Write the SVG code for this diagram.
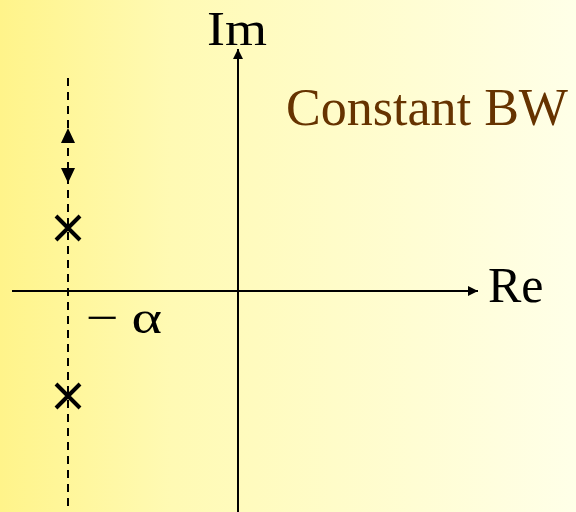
<svg xmlns="http://www.w3.org/2000/svg" width="576" height="512" viewBox="0 0 576 512">
<defs>
<linearGradient id="bg" x1="0" y1="0" x2="1" y2="0">
<stop offset="0" stop-color="#FFF48A"/>
<stop offset="0.3" stop-color="#FFFAB4"/>
<stop offset="1" stop-color="#FFFFE8"/>
</linearGradient>
<marker id="ah" viewBox="0 0 10 10" refX="10" refY="5" markerWidth="14" markerHeight="10" markerUnits="userSpaceOnUse" orient="auto"><path d="M0,0 L10,5 L0,10 Z" fill="#000"/></marker>
</defs>
<style>
.ax{stroke:#000;stroke-width:2;fill:none}
.dash{stroke:#000;stroke-width:2;stroke-dasharray:8,6;fill:none}
.x{stroke:#000;stroke-width:4;fill:none}
.t{font-family:"Liberation Serif","Times New Roman",serif}
</style>
<rect width="576" height="512" fill="url(#bg)"/>
<g id="connectors">
<line class="ax" x1="238" y1="512" x2="238" y2="49" marker-end="url(#ah)"/>
<line class="ax" x1="12" y1="291" x2="478" y2="291" marker-end="url(#ah)"/>
<line class="dash" x1="68" y1="78" x2="68" y2="512"/>
<path d="M68,128 L61,143 L75,143 Z" fill="#000"/>
<path d="M68,183 L61,168 L75,168 Z" fill="#000"/>
</g>
<g id="pole1"><path class="x" d="M56,216 L80,240 M80,216 L56,240"/></g>
<g id="pole2"><path class="x" d="M56,384 L80,408 M80,384 L56,408"/></g>
<g id="labels">
<text class="t" x="207" y="45" font-size="49" fill="#000" textLength="60" lengthAdjust="spacingAndGlyphs">Im</text>
<text class="t" x="488" y="302" font-size="50" fill="#000">Re</text>
<text class="t" x="286" y="125" font-size="53" fill="#663300" textLength="282" lengthAdjust="spacingAndGlyphs">Constant BW</text>
<text class="t" x="86" y="333" font-size="46" fill="#000" textLength="76" lengthAdjust="spacingAndGlyphs">−<tspan dx="10">α</tspan></text>
</g>
</svg>
